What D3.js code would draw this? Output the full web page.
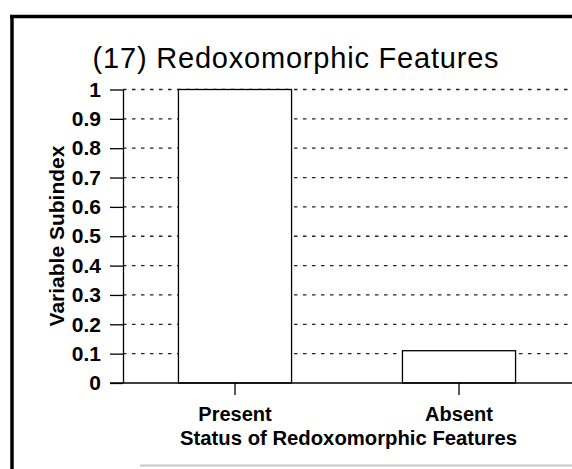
<!DOCTYPE html>
<html>
<head>
<meta charset="utf-8">
<script src="https://cdn.jsdelivr.net/npm/d3@7"></script>
<style>
  body { margin: 0; background: #fff; }
  svg { display: block; font-family: "Liberation Sans", Arial, sans-serif; }
  .grid line { stroke: #222; stroke-width: 1.3; stroke-dasharray: 3.5,5.5; }
  .axis path, .axis line { stroke: #000; stroke-width: 1.3; }
</style>
</head>
<body>
<svg id="chart" width="572" height="469"></svg>
<script>
// values
var categories = ["Present", "Absent"];
var subindex = [1.0, 0.11];
var yTicks = [0, 0.1, 0.2, 0.3, 0.4, 0.5, 0.6, 0.7, 0.8, 0.9, 1];
var tickLabels = ["0", "0.1", "0.2", "0.3", "0.4", "0.5", "0.6", "0.7", "0.8", "0.9", "1"];

var svg = d3.select("#chart"),
    width = +svg.attr("width"),
    height = +svg.attr("height");

var plotLeft = 123, plotRight = 571, plotTop = 89.5, plotBottom = 383;

// frame of the scanned figure
svg.append("line").attr("x1", 12).attr("x2", 12).attr("y1", 15).attr("y2", height)
  .attr("stroke", "#000").attr("stroke-width", 3.5);
svg.append("line").attr("x1", 10).attr("x2", width).attr("y1", 16.5).attr("y2", 16.5)
  .attr("stroke", "#000").attr("stroke-width", 3.5);
svg.append("line").attr("x1", 140).attr("x2", width).attr("y1", 465.5).attr("y2", 465.5)
  .attr("stroke", "#c8c8c8").attr("stroke-width", 2);

var x = d3.scaleBand()
  .domain(categories)
  .range([plotLeft, plotRight])
  .paddingInner(0.495)
  .paddingOuter(0.2475);

var y = d3.scaleLinear()
  .domain([0, 1])
  .range([plotBottom, plotTop]);

// dotted gridlines, bars sit on top of them
svg.append("g").attr("class", "grid")
  .selectAll("line")
  .data(yTicks.filter(function(d) { return d > 0; }))
  .enter().append("line")
  .attr("x1", plotLeft).attr("x2", plotRight + 1)
  .attr("y1", function(d) { return y(d); })
  .attr("y2", function(d) { return y(d); });

svg.append("g").selectAll("rect")
  .data(subindex)
  .enter().append("rect")
  .attr("x", function(d, i) { return x(categories[i]); })
  .attr("y", function(d) { return y(d); })
  .attr("width", x.bandwidth())
  .attr("height", function(d) { return y(0) - y(d); })
  .attr("fill", "#fff")
  .attr("stroke", "#000")
  .attr("stroke-width", 1.3);

var yAxis = svg.append("g").attr("class", "axis")
  .attr("transform", "translate(" + plotLeft + ",0)")
  .call(d3.axisLeft(y).tickValues(yTicks)
    .tickFormat(function(d, i) { return tickLabels[i]; })
    .tickSize(13).tickSizeOuter(0).tickPadding(9));
yAxis.selectAll("text")
  .attr("font-family", "Liberation Sans, Arial, sans-serif")
  .style("font-size", "21px").style("font-weight", "bold").attr("fill", "#000");

var xAxis = svg.append("g").attr("class", "axis")
  .attr("transform", "translate(0," + plotBottom + ")")
  .call(d3.axisBottom(x).tickSize(12).tickSizeOuter(0).tickPadding(14));
xAxis.select(".domain").attr("d", "M" + (plotLeft - 13) + ",0H" + (plotRight + 1));
xAxis.selectAll("text")
  .attr("font-family", "Liberation Sans, Arial, sans-serif")
  .style("font-size", "20px").style("font-weight", "bold").attr("fill", "#000")
  .attr("dy", "0.71em").attr("y", 24);

svg.append("text")
  .attr("x", 296).attr("y", 68)
  .attr("text-anchor", "middle")
  .style("font-size", "29px")
  .style("letter-spacing", "0.8px")
  .text("(17) Redoxomorphic Features");

svg.append("text")
  .attr("x", 348.5).attr("y", 445)
  .attr("text-anchor", "middle")
  .style("font-size", "20.3px").style("font-weight", "bold")
  .text("Status of Redoxomorphic Features");

svg.append("text")
  .attr("transform", "translate(64,236) rotate(-90)")
  .attr("text-anchor", "middle")
  .style("font-size", "21px").style("font-weight", "bold")
  .text("Variable Subindex");
</script>
</body>
</html>
